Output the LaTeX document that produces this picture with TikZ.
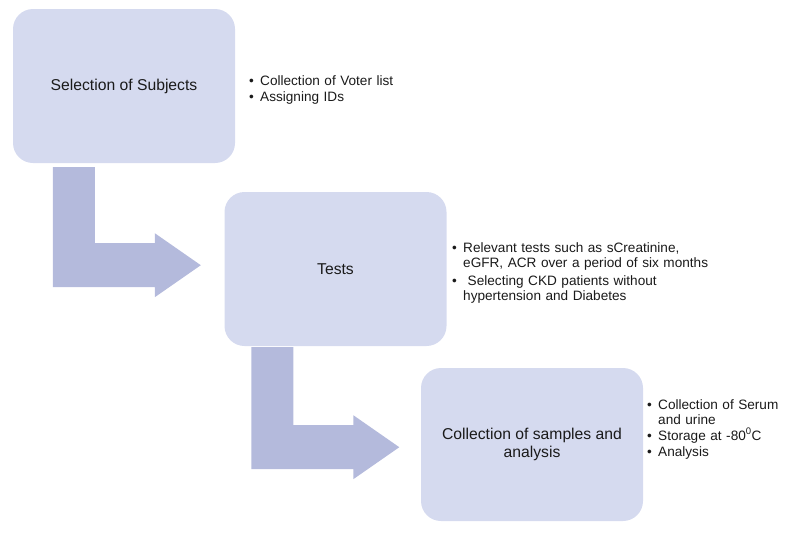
\documentclass[tikz,border=0pt]{standalone}
\usepackage{fontspec}
\setmainfont{Liberation Sans}
\usetikzlibrary{calc}
\definecolor{stagefill}{HTML}{D5DAEF}
\definecolor{flow}{HTML}{B4BADC}
\definecolor{ink}{HTML}{1A1A1A}
% one bullet point, hanging indent
\newcommand{\blt}[1]{\par\hangindent=11pt\hangafter=1\noindent\makebox[11pt][l]{\textbullet}#1\par}
% bent arrow: start corner, length of the vertical bar
\newcommand{\bentarrow}[2]{%
  \fill[flow] #1 -- ++(42,0) -- ++(0,#2) -- ++(60,0) -- ++(0,-10)
    -- ++(46,32) -- ++(-46,32) -- ++(0,-10) -- ++(-102,0) -- cycle;}

\begin{document}
\begin{tikzpicture}[x=1pt,y=-1pt,
  stage/.style={fill=stagefill,rounded corners=20pt,minimum width=222pt,minimum height=154pt,
    text=ink,font=\fontsize{15.7}{18.5}\selectfont,align=center},
  notes/.style={anchor=west,inner sep=0pt,text=ink,align=left,
    font=\fontsize{13.6}{15}\selectfont}]
  \useasboundingbox (0,0) rectangle (791,533);

  % Stages
  \node[stage] (sel) at (124,86) {Selection of Subjects};
  \node[stage] (tests) at (335.5,269) {Tests};
  \node[stage,minimum height=153pt] (coll) at (532,444.5) {Collection of samples and\\analysis};

  % Bent arrows
  \bentarrow{($(sel.south west)+(40,4)$)}{76}
  \bentarrow{($(tests.south west)+(27,1)$)}{78}

  % Notes
  \node[notes,text width=160pt] (selnotes) at (249,87)
    {\setlength{\parskip}{1pt}\blt{Collection of Voter list}\blt{Assigning IDs}};
  \node[notes,text width=260pt] (testnotes) at (452,269)
    {\setlength{\parskip}{3pt}\blt{Relevant tests such as sCreatinine,\newline eGFR, ACR over a period of six months}%
     \blt{ Selecting CKD patients without\newline hypertension and Diabetes}};
  \node[notes,text width=140pt] (collnotes) at (647,426)
    {\setlength{\parskip}{1pt}\blt{Collection of Serum\newline and urine}\blt{Storage at -80\textsuperscript{0}C}\blt{Analysis}};
\end{tikzpicture}
\end{document}
